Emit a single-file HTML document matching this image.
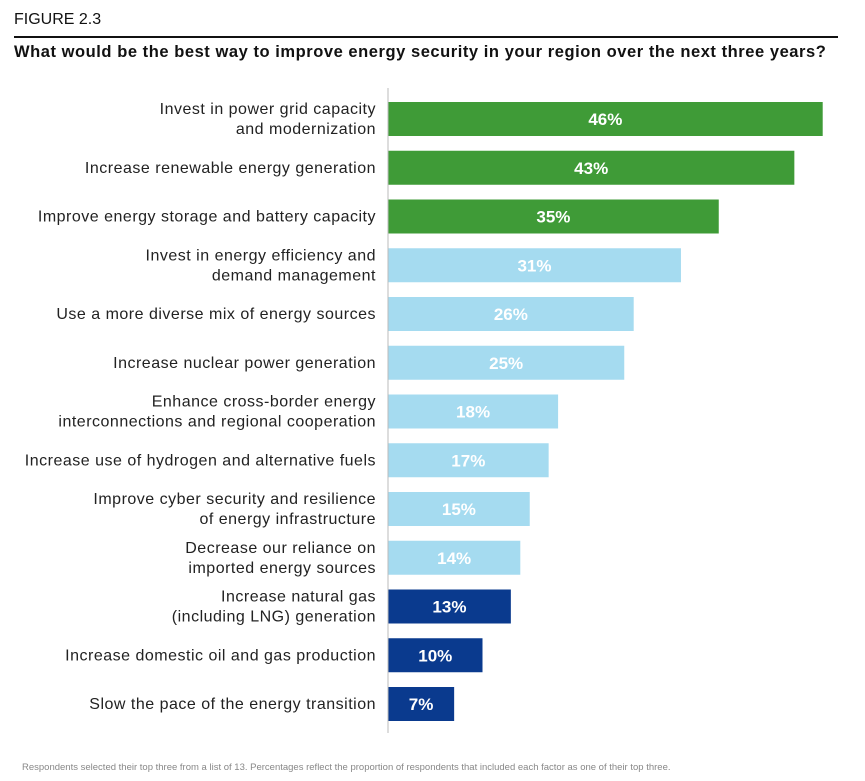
<!DOCTYPE html>
<html><head><meta charset="utf-8">
<style>
body{margin:0;background:#fff;font-family:"Liberation Sans",sans-serif;}
#wrap{position:relative;width:865px;height:781px;overflow:hidden;}
</style></head>
<body>
<div id="wrap">
<div style="position:absolute;left:14px;top:11px;font-size:16px;color:#111;">FIGURE 2.3</div>
<div style="position:absolute;left:14px;top:36px;width:824px;height:1.5px;background:#111;"></div>
<div style="position:absolute;left:14px;top:43px;font-size:16.5px;font-weight:bold;color:#111;letter-spacing:0.55px;white-space:nowrap;">What would be the best way to improve energy security in your region over the next three years?</div>
<svg id="chart" width="865" height="781" style="position:absolute;left:0;top:0;"></svg>
<div style="position:absolute;left:22px;top:762px;font-size:9.5px;color:#888;white-space:nowrap;">Respondents selected their top three from a list of 13. Percentages reflect the proportion of respondents that included each factor as one of their top three.</div>
</div>
<script>
const categories=[["Invest in power grid capacity","and modernization"],["Increase renewable energy generation"],["Improve energy storage and battery capacity"],["Invest in energy efficiency and","demand management"],["Use a more diverse mix of energy sources"],["Increase nuclear power generation"],["Enhance cross-border energy","interconnections and regional cooperation"],["Increase use of hydrogen and alternative fuels"],["Improve cyber security and resilience","of energy infrastructure"],["Decrease our reliance on","imported energy sources"],["Increase natural gas","(including LNG) generation"],["Increase domestic oil and gas production"],["Slow the pace of the energy transition"]];
const values=[46,43,35,31,26,25,18,17,15,14,13,10,7];
const groups=["green","green","green","light","light","light","light","light","light","light","dark","dark","dark"];
const colors={green:"#3f9b37",light:"#a5dbf0",dark:"#0a3a8e"};
const NS="http://www.w3.org/2000/svg";
const svg=document.getElementById("chart");
const x0=388,pxPer=9.45,y0=102,step=48.75,bh=34;
const xs=v=>x0+v*pxPer;
const ys=i=>y0+i*step;
function mk(t,a){const e=document.createElementNS(NS,t);for(const k in a)e.setAttribute(k,a[k]);svg.appendChild(e);return e;}
values.forEach((v,i)=>{
  const r=mk("rect",{x:x0,y:ys(i),width:xs(v)-x0,height:bh,fill:colors[groups[i]]});
  
  
  const t=mk("text",{x:(x0+xs(v))/2,y:ys(i)+bh/2+6,"text-anchor":"middle","font-size":"17","font-weight":"bold",fill:"#fff","font-family":"Liberation Sans, sans-serif"});
  t.textContent=v+"%";
  
  
  const lines=categories[i];
  lines.forEach((ln,j)=>{
    const ly=ys(i)+bh/2+5+(lines.length===2?(j===0?-10:10):0);
    const l=mk("text",{x:376,y:ly,"text-anchor":"end","font-size":"16","letter-spacing":"0.5",fill:"#222","font-family":"Liberation Sans, sans-serif"});
    l.textContent=ln;
    
    
  });
});
const ax=mk("line",{x1:x0,y1:88,x2:x0,y2:733,stroke:"#bbb","stroke-width":1});


</script>
</body></html>
